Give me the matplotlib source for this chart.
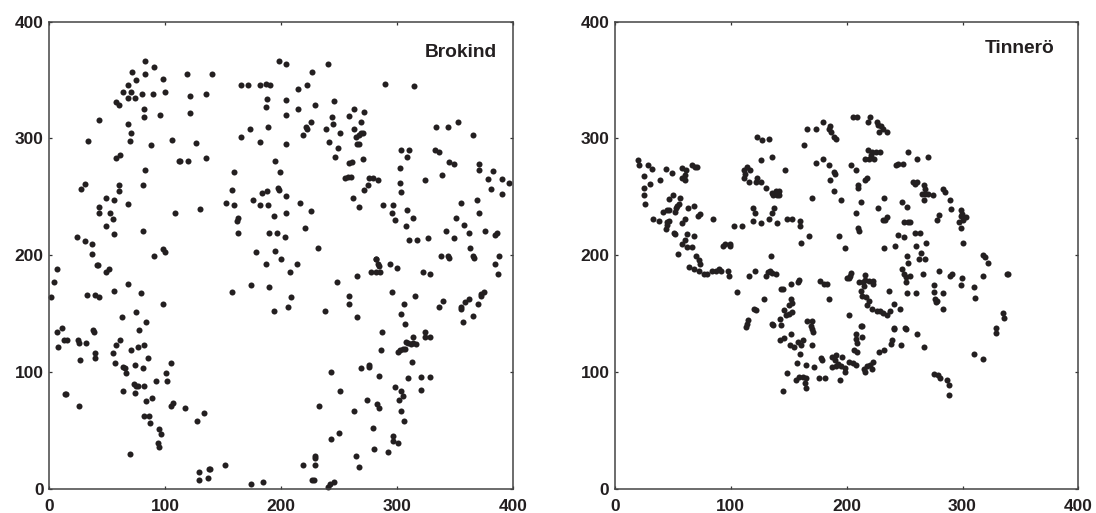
import numpy as np
import matplotlib
matplotlib.use('Agg')
import matplotlib.pyplot as plt

plt.rcParams['font.family'] = ['Liberation Sans', 'DejaVu Sans']
plt.rcParams['font.weight'] = 'bold'

ticks = [0, 100, 200, 300, 400]
labels = ['Brokind', 'Tinnerö']

# (x, y)
brokind = [
    (82.9,366),(90.7,361),(71.7,357),(82.9,355),(74.8,350),(97.9,351),(67.6,346),(118.9,355),(140.8,355),
    (63.6,340),(70.8,340),(79.7,338),(89.8,338),(99.9,340),(67.6,335),(73.7,335),(121.8,336),(135,338),
    (57.3,331),(59.9,329),(81.8,325),(81.8,318),(95.9,320),(121.8,322),(42.9,316),(67.6,312),(70.8,305),
    (69.7,298),(33.7,298),(87.8,294),(105.9,299),(126.7,296),(60.7,286),(57.6,283),(112,281),(113,281),
    (120,281),(135,283),(82.9,273),(30.8,261),(27.6,257),(59.9,260),(59.9,255),(80.9,260),(48.6,249),
    (55.8,247),(67.6,244),(42.9,241),(42.9,236),(52.7,236),(54.7,231),(48.6,225),(55.8,218),(80.9,221),
    (108.8,236),(129.8,240),(23.9,216),(30.8,212),(36.8,210),(36.8,201),(90.7,199),(97.9,205),(99.9,203),
    (165.8,346),(171.8,346),(181.9,346),(186.8,347),(190.8,346),(198,366),(188,334),(186.8,327),(188.8,310),
    (173,308),(165.8,301),(181.9,297),(194.9,281),(199,271),(159.8,271),(157.7,256),(197.8,257.5),(198,256),
    (188,255),(183.6,253),(152.9,245),(159.8,243),(175.9,247),(181.9,243),(188.8,243),(193.7,234),(162.9,232),
    (161.8,229),(162.9,219),(189.7,219),(196.9,219),(178.8,203),(194.9,204),
    (204.7,364),(241,364),(226.6,357),(222.8,346),(214.8,342),(289.9,347),(314.7,345),(204.7,333),(245.9,332),
    (229.7,329),(214.8,325),(204.7,320),(262.9,325),(271.8,323),(243.9,318),(258.8,319),(268.9,314),(245,312),
    (225.7,314),(221.7,310),(222.8,308),(239,308),(262.9,308),(218.8,303),(250.8,305),(270.6,305),(268.9,305),
    (266.9,303),(264.9,301),(241.8,297),(204.7,295),(266,295),(267.2,295),(249,292),(247,284),(270.9,282),
    (258.8,279),(261.1,280),(255.6,266),(257.7,267),(260.8,267),(275.8,266),(279.8,266),(283.9,264),(275,260),
    (271.8,256),(262,249),(267.7,241),(204.7,251),(216.8,245),(225.7,238),(204.7,236),(220.8,223),(203.8,216),
    (199.8,197),(231.8,206),(281.9,197),(287.9,243),(297.1,243),(296,236),(298.8,230),(308.9,239),(313.8,232),
    (308,225),(310.1,213),(317.8,213),(326.8,215),(302.9,275),(302.9,262),(304,254),(304,290),(310.9,290),
    (308.9,284),(323.9,264),(338.8,269),(332.8,290),(336.8,288),(344.9,280),(348.9,278),(334,310),(344,310),
    (353,314),(365.9,303),(371,278),(371,273),(382.9,272),(378.9,265),(390.9,265),(397,262),(380.9,257),
    (390.9,252),(355,245),(369,247),(371,236),(350.9,232),(357.8,226),(342,221),(348.9,215),(361.9,219),
    (376,221),(386.3,219),(384.9,217),(363,206),(365.9,199.5),(367,198),(338,199.5),(344,199.5),(345.2,197.5),
    (387.8,199.5),
    (6.9,188),(40.9,192),(41.7,192),(48.6,186),(51.8,188),(3.7,177),(67.9,175),(32.8,166),(39.7,166),(42.9,164),
    (1.4,164),(55.8,169),(78.9,168),(97.9,158),(74.8,151),(62.8,147),(83.8,143),(77.7,136),(10.7,138),(6.9,134),
    (37.7,136),(38.9,134),(12.7,127),(15,127),(24.8,127),(25.9,125),(32,125),(60.7,127),(57.9,123),(7.8,121),
    (70.8,119),(76.9,121),(81.8,123),(39.7,116),(39.7,112),(54.7,116),(26.8,110),(56.7,108),(84.9,112),(104.8,108),
    (73.7,106),(63.6,104),(65.6,103),(65.9,99),(80.9,103),(100.7,99),(91.8,92.6),(101.9,92.6),(72.8,90),(74.8,88),
    (76.9,88),(81.8,88),(63.6,84),(73.7,82),(13.5,81.5),(14.3,81),(88.7,78),(83.8,75),(106.8,73),(104.8,71),
    (116.9,69),(133.6,65),(25.9,71),(81.8,62),(85.8,62),(127.8,58),(86.9,56),(94.7,51),(96.7,47),(93.8,39),
    (94.7,36),(69.7,30),(129,14.6),(129,7.8),(137,9.5),(137.9,16.6),(138.7,16.6),(152,20.6),(173.9,3.8),(184.8,5.8),
    (186.8,192.8),(189.7,172.8),(173.9,174.8),(157.7,168.8),(194,152),
    (213.9,192.8),(207.9,186),(208.7,164),(205.9,156),(248.7,176.8),(266,182),(258.8,164.8),(258.8,158),(238,152),
    (266,147),(282.1,196.8),(283.9,192.8),(284.2,191),(277.8,186),(281.9,186),(285.3,186),(294,192.8),(300,188.8),
    (323,186),(329,184),(296,168.8),(315.8,164.8),(306,158),(304,150),(306.9,140.8),(287,134),(339.7,160.8),
    (336.8,156),(361.9,162.8),(359,160),(355.8,156),(355.8,154),(370.2,158),(372.5,166.8),(372.5,164.8),(374.8,168.8),
    (365.9,148),(357,142.8),(384.9,192.8),(387,184),(324.7,134),(323.9,129.7),(329,129.7),(313.8,129.7),(308,126),
    (310,125),(312,123.7),(316.7,123.7),(313.8,125),(306.9,120),(305.7,119.7),(302.9,118.9),(300.8,116.8),(285.9,118.9),
    (312.9,108.9),(268.9,103.7),(276.1,105.7),(276.1,104),(243,99.7),(284.7,96.9),(310,94.9),(321,95.7),(329,95.7),
    (298,86.9),(321,84.9),(304,83.7),(304.9,79.7),(302,75.7),(250.8,83.7),(274,75.7),(283,72.9),(284.7,68.9),
    (232.9,70.9),(262.9,66.9),(304,66.9),(306,57.7),(279.8,51.7),(249.9,47.7),(243,42.9),(296.8,44.9),(296.8,40.9),
    (300.8,38.9),(280.7,33.8),(292,31.8),(264.9,27.8),(266.9,18.6),(229.7,27.8),(229.7,26),(229.7,20.6),(218.8,20.6),
    (226.6,7.8),(228.9,7.8),(245.9,5.8),(242.4,3.8),(241,1.8),
]

tinnero = [
    (19.9,281.2),(20.7,277.2),(28.8,277.2),(31.7,274),(43.8,274),(48.9,270),(24.8,268),(29.9,261),(38.9,264.4),
    (24.8,257.3),(24.8,251.3),(26.2,244.1),(57.6,274.4),(61.3,272.7),(60.4,269),(57.6,266.4),(60.4,264.4),(66.8,277.2),
    (69.1,275.2),(71.1,275.2),(50.4,251.3),(46.9,248.4),(56.4,249.3),(55.6,244.1),(53.5,242.4),(52.4,240.4),(51.8,237.3),
    (41.7,237.3),(46.9,238.4),(44.6,238.4),(62.8,240.4),(67.9,242.4),(73.4,235.3),(71.7,233.6),(60.7,231.3),(57.6,227.3),
    (84.9,231.3),(32.8,231.3),(38,229.3),(46.9,229.3),(44.6,228.1),(44,222.4),(44.6,226.1),(50.9,219.3),(51.8,217.9),
    (61.9,217.9),(67.9,216.1),(60.7,212.7),(57.6,209.6),(62.5,207.3),(66.8,207.3),(54.7,201.3),(69.9,199.3),(72.8,196.2),
    (73.4,192.2),(63.9,190.2),(67.9,188.2),(72.8,186.2),(76.6,184.2),(79.2,184.2),(84.1,186.2),(86.9,186.2),(89.8,188.2),
    (91.8,186.2),(97.6,186.2),(98.7,182.2),(93.6,208),(94.6,210),(99.3,208),(99.3,210),(102.8,225.3),(109.7,225.3),
    (105.6,168.7),(115.7,182.2),(120.9,186.2),(130.7,182.2),(131.8,185.3),(133.9,186.2),(135.9,184.7),(138.7,184.2),
    (134.7,199.3),(118.9,240.4),(120.9,236.1),(118.9,229.3),(125.8,227.3),(132.7,231.3),(135.9,236.1),(137.6,240.4),
    (139.9,227.3),(148.8,231.3),(152.9,231.3),(160,229.3),(159.8,225.3),(167.8,216.1),(160.6,210.1),(169.8,249.3),
    (193.7,216.1),(198.6,206.1),(122.9,301.2),(126.9,298.4),(132.7,299.2),(125.8,281.2),(135.9,284.4),(146.8,273.2),
    (162.9,294.4),(165.8,308.4),(173.9,308.4),(179.9,314.4),(185.7,310.4),(185.1,308.4),(186.8,305.2),(188.8,301.2),
    (190.8,299.2),(173.9,279.2),(179.9,282.4),(184.8,277.2),(188.8,271.2),(190,269.2),(185.7,264.4),(188.8,255.3),
    (194.9,247.3),(113.7,275.5),(111.7,273.2),(116.6,272.7),(112.3,269.2),(111.7,266.4),(115.7,262.4),(122.6,266.4),
    (121.8,262.4),(125.8,262.4),(130.4,257.3),(135.3,253.3),(136.7,251.3),(138.7,255.3),(141.9,255.3),(139.6,251.3),
    (141.9,251.3),(138.2,253.3),(141,253.3),(143.6,171),(144.8,171),(152,175.3),(157.7,177.3),(159.2,179),(176.7,178.2),
    (180.8,175),(182.8,175),(185.1,162.2),(151.7,162.2),(152.6,159),(150.5,157.6),(128.7,162.2),(120.3,154.2),(122,153),
    (145.7,153),(152.9,151.3),(150.3,149.3),(148,148.5),(142.5,145),(115.1,144.2),(113.7,141.3),(112.8,138.8),(135.9,141.3),
    (143.4,140.5),(165.8,143.3),(169.8,143.3),(169.3,139),(202.4,149),
    (205.8,318.4),(208.7,318.4),(219.9,318.4),(218.7,314),(226.5,314.4),(226.8,311.8),(229.4,310.4),(231.7,308),(228,305.2),
    (234.6,305.2),(218.7,290.4),(221.6,288.4),(225.4,288.4),(228.8,288.4),(216.2,282.4),(219.3,282.4),(223.9,282.4),(221,286),
    (252.7,288.4),(260.8,282.4),(270,284.4),(242.9,277.2),(244.1,278.4),(248.7,278.4),(203.8,277.2),(207.8,273.2),
    (217.9,266.4),(216.2,264.4),(209.8,260.4),(209.8,257.5),(232,249.3),(212.7,245.3),(226.8,240.4),(207.8,236.1),
    (247.8,245.3),(251.8,241.3),(257.3,262.4),(259.1,261.2),(261.1,263),(267.1,260.4),(267.7,256.7),(265.1,252.4),
    (267.7,252.4),(270.6,252.4),(274.3,251.3),(266.8,247.3),(282.9,256.7),(285,254.4),(289,247.3),(289.9,239.3),
    (298.5,238.4),(299.3,235.3),(298.5,233.3),(303.1,232.4),(300.8,230.4),(296.8,228.1),(298.8,223.3),(279.5,234.4),
    (278.3,230.1),(235.2,232.4),(231.1,230.1),(233.4,230.1),(249.8,228.1),(252.7,228.1),(254.7,228.1),(210.1,223.3),
    (210.7,221),(259.3,219.3),(263.1,219.3),(244.7,217.3),(249.8,215.3),(232,206.1),(241.8,208.1),(259.9,208.1),
    (268.8,210.1),(300.8,210.1),(251.8,199.3),(263.9,202.2),(262.8,197),(268,197),(252.7,193.3),(318,200.4),(319.2,198.4),
    (322.1,193.3),(317.8,182.2),(338.2,184.2),(339.1,184.2),(247.8,188.2),(249.8,184.2),(251,181),(251,177.3),(254.7,182.2),
    (265.9,184.2),(279.8,186.2),(291.3,184.2),(289.3,181.9),(299.9,180.2),(298.8,174.2),(309.7,173),(310.9,163),(275.7,174.2),
    (275.2,168.2),(282.9,167.3),(276,162.8),(277.8,161),(277.2,159.6),(282.9,154.2),(259.9,167.3),(251.8,167.3),(236.6,169.3),
    (335,150.2),(335.9,146.2),(328.7,137.3),(329,133),(310,115),(318,111),
    (200.6,180.7),(202.9,182.4),(204.1,184.7),(201.8,180.2),(210.7,177.3),(215.6,182.7),(216.2,179),(214,176.7),(215.3,174),
    (219,178.2),(223,177.6),(223,175),(212.7,169.3),(213.6,165.3),(216.7,164.5),(219,160.5),(217.9,157.6),(221.9,154.2),
    (225.9,152.2),(228.8,152.2),(231.7,150.5),(234.6,149),(237.5,152.2),(240.6,158.2),(245.8,154.2),(212.7,139),(240.9,137.3),
    (250.7,137.3),
    (136.7,139.9),(169.8,136.8),(170.7,134.2),(151.7,132.2),(145.9,129),(142.7,127.4),(162.6,127.1),(158.3,125.4),(160.3,123.1),
    (169.8,123.1),(150.8,123.1),(154.8,121.4),(159.7,115.1),(156.8,108),(164.9,106),(171.8,104),(148.8,99.1),(156.3,93.4),
    (159.1,95.7),(162.6,95.7),(164.6,94.8),(164,90.8),(164.9,86),(144.8,84),(176.1,95.1),(181,95.1),(194,93.1),(177.9,112.2),
    (179,110),(187.1,112.8),(190.8,114.8),(195.7,112.8),(189.9,110.5),(192.8,107.1),(187.6,104.2),(190.8,105.4),(194.8,104.8),
    (198.3,103.4),(198.6,100),(201.7,108.8),(205.8,107.7),(208.1,105.7),(213,139),(207.8,132.2),(213,130.2),(207.8,128.2),
    (208.9,125.1),(206.4,119.1),(209.2,117.1),(222.5,108.2),(220.2,106.2),(217.3,104.8),(215.3,102.5),(215.6,100.2),(222.2,102.5),
    (228,117.1),(232.5,119.1),(238.3,124.2),(238.9,127.6),(240.9,137),(251,137),(260.8,132.2),(266.8,121.1),(246.7,123.1),
    (275.4,98.2),(278.9,97.7),(280.6,95.1),(287,93.1),(288.7,89.1),(288.7,80),
]

W, H = 1096, 513
fig = plt.figure(figsize=(W/100, H/100), dpi=100)
ax1 = fig.add_axes([49.3/W, (H-488.7)/H, 463.4/W, 467/H])
ax2 = fig.add_axes([615/W, (H-488.7)/H, 463.4/W, 467/H])

for ax, pts, name, tx, ty in [(ax1, brokind, labels[0], 324, 374), (ax2, tinnero, labels[1], 319.5, 377)]:
    pts = np.array(pts)
    ax.scatter(pts[:, 0], pts[:, 1], s=19, color='#231f20', linewidths=0, clip_on=False)
    ax.set_xlim(0, 400)
    ax.set_ylim(0, 400)
    ax.set_xticks(ticks)
    ax.set_yticks(ticks)
    ax.tick_params(direction='in', length=2, width=0.9, color='#333333', top=True, right=True,
                   labelsize=12.5, labelcolor='#231f20')
    ax.tick_params(axis='x', pad=7.5)
    ax.tick_params(axis='y', pad=4)
    for s in ax.spines.values():
        s.set_linewidth(1.1)
        s.set_color('#444444')
    ax.text(tx, ty, name, fontsize=13.8, fontweight='bold', color='#231f20', va='center')

fig.savefig('out.png', dpi=100)
